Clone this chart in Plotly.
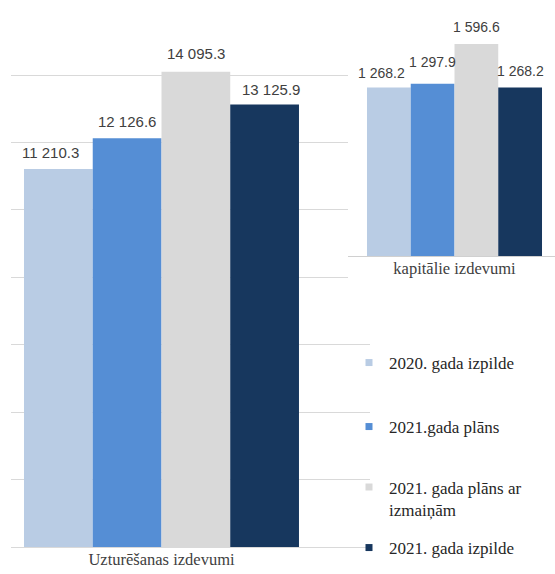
import plotly.graph_objects as go

# ---- data ----
series_names = ["2020. gada izpilde", "2021.gada plāns",
                "2021. gada plāns ar<br>izmaiņām", "2021. gada izpilde"]
categories = ["Uzturēšanas izdevumi", "kapitālie izdevumi"]
uzturesanas = [11210.3, 12126.6, 14095.3, 13125.9]
kapitalie = [1268.2, 1297.9, 1596.6, 1268.2]
labels_main = ["11 210.3", "12 126.6", "14 095.3", "13 125.9"]
labels_cap = ["1 268.2", "1 297.9", "1 596.6", "1 268.2"]

colors = ["#B9CCE4", "#558ED5", "#D9D9D9", "#17375E"]

W, H = 555, 574
SERIF = "Liberation Serif, Times New Roman, serif"
SANS = "Liberation Sans, Arial, sans-serif"

fig = go.Figure()

for i, name in enumerate(series_names):
    fig.add_trace(go.Bar(x=[i], y=[uzturesanas[i]], width=1.0, marker_color=colors[i],
                         marker_line_width=0, showlegend=False, xaxis="x", yaxis="y",
                         hoverinfo="skip"))
    fig.add_trace(go.Bar(x=[i], y=[kapitalie[i]], width=1.0, marker_color=colors[i],
                         marker_line_width=0, showlegend=False, xaxis="x2", yaxis="y2",
                         hoverinfo="skip"))
    leg = "legend" if i == 0 else f"legend{i+1}"
    fig.add_trace(go.Scatter(x=[None], y=[None], mode="markers", name=name,
                             marker=dict(symbol="square", size=7, color=colors[i]),
                             legend=leg, showlegend=True, xaxis="x", yaxis="y"))

# data labels
main_dx = [-8, 0, 0, 6]
main_dy = [17, 17, 18, 15]
cap_dx = [-7, 0, 0, 0]
cap_dy = [15, 22, 17, 17]
for i in range(4):
    fig.add_annotation(x=i, y=uzturesanas[i], xref="x", yref="y", text=labels_main[i],
                       showarrow=False, xshift=main_dx[i], yshift=main_dy[i],
                       font=dict(family=SANS, size=15, color="#404040"))
    fig.add_annotation(x=i, y=kapitalie[i], xref="x2", yref="y2", text=labels_cap[i],
                       showarrow=False, xshift=cap_dx[i], yshift=cap_dy[i],
                       font=dict(family=SANS, size=14, color="#404040"))

grid = "#D9D9D9"
# main axes
main_top_px, main_base_px = 10, 547
scale_main = (547 - 75) / 14000.0
fig.update_layout(
    xaxis=dict(domain=[11 / W, 370 / W], range=[-0.689, 4.533], tickvals=[1.5],
               ticktext=[categories[0]], showgrid=False, showline=False, zeroline=False,
               ticks="", tickfont=dict(family=SERIF, size=16.5, color="#404040"),
               fixedrange=True),
    yaxis=dict(domain=[(H - main_base_px) / H, 1 - main_top_px / H],
               range=[0, (main_base_px - main_top_px) / scale_main], dtick=2000,
               showticklabels=False, showgrid=True, gridcolor=grid, gridwidth=1,
               zeroline=True, zerolinecolor=grid, zerolinewidth=1, fixedrange=True),
)

# inset axes
cap_scale = 212 / 1596.6  # px per unit
cap_base_px, cap_bottom_px = 256, 290
fig.update_layout(
    xaxis2=dict(domain=[348 / W, 1.0], range=[-0.934, 3.797], anchor="free",
                position=(H - cap_base_px) / H, tickvals=[1.5], ticktext=[categories[1]],
                showgrid=False, showline=False, zeroline=False, ticks="",
                tickfont=dict(family=SERIF, size=16.5, color="#404040"), fixedrange=True),
    yaxis2=dict(domain=[(H - cap_bottom_px) / H, 1.0], anchor="x2",
                range=[-(cap_bottom_px - cap_base_px) / cap_scale, cap_base_px / cap_scale],
                showticklabels=False, showgrid=False, zeroline=True,
                zerolinecolor="#D0D0D0", zerolinewidth=1, fixedrange=True),
)

leg_font = dict(family=SERIF, size=17, color="#262626")
leg_x = 349 / W
leg_y = [363, 427, 498.5, 548]
legends = {}
for i in range(4):
    key = "legend" if i == 0 else f"legend{i+1}"
    legends[key] = dict(x=leg_x, xanchor="left", y=(H - leg_y[i]) / H, yanchor="middle",
                        font=leg_font, bgcolor="rgba(0,0,0,0)", valign="top",
                        itemclick=False, itemdoubleclick=False)
fig.update_layout(**legends)

fig.update_layout(
    width=W, height=H, margin=dict(l=0, r=0, t=0, b=0),
    paper_bgcolor="white", plot_bgcolor="white", barmode="overlay",
)

fig.write_html("out.html", config={"displayModeBar": False},
               post_script="document.body.style.margin='0px';"
                           "document.body.style.overflow='hidden';")
